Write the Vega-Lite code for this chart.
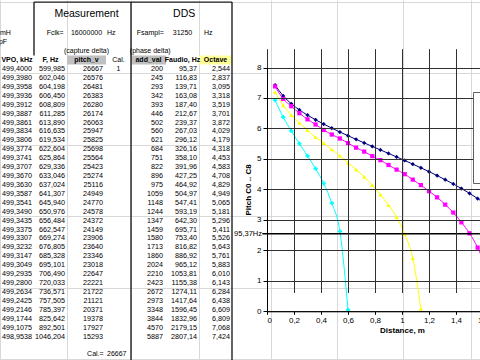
{
  "$schema": "https://vega.github.io/schema/vega-lite/v6.json",
  "width": 480,
  "height": 360,
  "padding": 0,
  "autosize": {"type": "none"},
  "background": "white",
  "config": {
    "view": {"stroke": null},
    "locale": {"number": {"decimal": ",", "thousands": ".", "grouping": [3], "currency": ["", ""]}},
    "text": {"font": "Liberation Sans", "color": "#000000"}
  },
  "datasets": {
    "table": [
      {"row":0,"vpo":499.4000,"f":599.985,"pitch":26667,"addval":200,"faudio":95.37,"octave":2.544},
      {"row":1,"vpo":499.3980,"f":602.046,"pitch":26576,"addval":245,"faudio":116.83,"octave":2.837},
      {"row":2,"vpo":499.3958,"f":604.198,"pitch":26481,"addval":293,"faudio":139.71,"octave":3.095},
      {"row":3,"vpo":499.3936,"f":606.450,"pitch":26383,"addval":342,"faudio":163.08,"octave":3.318},
      {"row":4,"vpo":499.3912,"f":608.809,"pitch":26280,"addval":393,"faudio":187.40,"octave":3.519},
      {"row":5,"vpo":499.3887,"f":611.285,"pitch":26174,"addval":446,"faudio":212.67,"octave":3.701},
      {"row":6,"vpo":499.3861,"f":613.890,"pitch":26063,"addval":502,"faudio":239.37,"octave":3.872},
      {"row":7,"vpo":499.3834,"f":616.635,"pitch":25947,"addval":560,"faudio":267.03,"octave":4.029},
      {"row":8,"vpo":499.3806,"f":619.534,"pitch":25825,"addval":621,"faudio":296.12,"octave":4.179},
      {"row":9,"vpo":499.3774,"f":622.604,"pitch":25698,"addval":684,"faudio":326.16,"octave":4.318},
      {"row":10,"vpo":499.3741,"f":625.864,"pitch":25564,"addval":751,"faudio":358.10,"octave":4.453},
      {"row":11,"vpo":499.3707,"f":629.336,"pitch":25423,"addval":822,"faudio":391.96,"octave":4.583},
      {"row":12,"vpo":499.3670,"f":633.046,"pitch":25274,"addval":896,"faudio":427.25,"octave":4.708},
      {"row":13,"vpo":499.3630,"f":637.024,"pitch":25116,"addval":975,"faudio":464.92,"octave":4.829},
      {"row":14,"vpo":499.3587,"f":641.307,"pitch":24949,"addval":1059,"faudio":504.97,"octave":4.949},
      {"row":15,"vpo":499.3541,"f":645.940,"pitch":24770,"addval":1148,"faudio":547.41,"octave":5.065},
      {"row":16,"vpo":499.3490,"f":650.976,"pitch":24578,"addval":1244,"faudio":593.19,"octave":5.181},
      {"row":17,"vpo":499.3435,"f":656.484,"pitch":24372,"addval":1347,"faudio":642.30,"octave":5.296},
      {"row":18,"vpo":499.3375,"f":662.547,"pitch":24149,"addval":1459,"faudio":695.71,"octave":5.411},
      {"row":19,"vpo":499.3307,"f":669.274,"pitch":23906,"addval":1580,"faudio":753.40,"octave":5.526},
      {"row":20,"vpo":499.3232,"f":676.805,"pitch":23640,"addval":1713,"faudio":816.82,"octave":5.643},
      {"row":21,"vpo":499.3147,"f":685.328,"pitch":23346,"addval":1860,"faudio":886.92,"octave":5.761},
      {"row":22,"vpo":499.3049,"f":695.101,"pitch":23018,"addval":2024,"faudio":965.12,"octave":5.883},
      {"row":23,"vpo":499.2935,"f":706.490,"pitch":22647,"addval":2210,"faudio":1053.81,"octave":6.010},
      {"row":24,"vpo":499.2800,"f":720.033,"pitch":22221,"addval":2423,"faudio":1155.38,"octave":6.143},
      {"row":25,"vpo":499.2634,"f":736.571,"pitch":21722,"addval":2672,"faudio":1274.11,"octave":6.284},
      {"row":26,"vpo":499.2425,"f":757.505,"pitch":21121,"addval":2973,"faudio":1417.64,"octave":6.438},
      {"row":27,"vpo":499.2146,"f":785.397,"pitch":20371,"addval":3348,"faudio":1596.45,"octave":6.609},
      {"row":28,"vpo":499.1744,"f":825.642,"pitch":19378,"addval":3844,"faudio":1832.96,"octave":6.809},
      {"row":29,"vpo":499.1075,"f":892.501,"pitch":17927,"addval":4570,"faudio":2179.15,"octave":7.068},
      {"row":30,"vpo":498.9538,"f":1046.204,"pitch":15293,"addval":5887,"faudio":2807.14,"octave":7.424}
    ],
    "headers": [
      {"col":0.5,"row":-1,"t":"VPO, kHz"},
      {"col":1.5,"row":-1,"t":"F, Hz"},
      {"col":2.5,"row":-1,"t":"pitch_v"},
      {"col":4.5,"row":-1,"t":"add_val"},
      {"col":5.5,"row":-1,"t":"Faudio, Hz"},
      {"col":6.5,"row":-1,"t":"Octave"}
    ],
    "plain": [
      {"col":3.5,"row":-1,"t":"Cal."},
      {"col":2.5,"row":-2,"t":"(capture delta)"},
      {"col":4.55,"row":-2,"t":"(phase delta)"},
      {"col":2.5,"row":-4,"t":"16000000"},
      {"col":4.55,"row":-4,"t":"Fsampl="},
      {"col":5.5,"row":-4,"t":"31250"},
      {"col":3.5,"row":0,"t":"1"}
    ],
    "lefttext": [
      {"col":0,"row":-4,"t":"mH"},
      {"col":-0.03,"row":-3,"t":"pF"},
      {"col":3.04,"row":-4,"t":"Hz"},
      {"col":6.15,"row":-4,"t":"Hz"},
      {"col":3.04,"row":32,"t":"26667"}
    ],
    "righttext": [
      {"col":1.9,"row":-4,"t":"Fclk="},
      {"col":2.94,"row":32,"t":"Cal.="}
    ],
    "titles": [
      {"col":2.5,"row":-6.15,"t":"Measurement"},
      {"col":5.55,"row":-6.15,"t":"DDS"}
    ],
    "fills": [
      {"c0":2,"c1":3,"r0":-1.5,"r1":-0.5,"kind":"grey"},
      {"c0":4,"c1":5,"r0":-1.5,"r1":-0.5,"kind":"grey"},
      {"c0":6,"c1":7,"r0":-1.5,"r1":-0.5,"kind":"yellow"}
    ],
    "borders": [
      {"c0":1,"c1":7,"r0":-7.5,"r1":-7.5},
      {"c0":1,"c1":1,"r0":-7.5,"r1":-1.5},
      {"c0":4,"c1":4,"r0":-7.5,"r1":33},
      {"c0":7,"c1":7,"r0":-7.5,"r1":33}
    ],
    "series": [
      {"s":"Measured","d":0.06,"p":7.424},{"s":"Measured","d":0.12,"p":7.068},{"s":"Measured","d":0.18,"p":6.809},
      {"s":"Measured","d":0.24,"p":6.609},{"s":"Measured","d":0.30,"p":6.438},{"s":"Measured","d":0.36,"p":6.284},
      {"s":"Measured","d":0.42,"p":6.143},{"s":"Measured","d":0.48,"p":6.010},{"s":"Measured","d":0.54,"p":5.883},
      {"s":"Measured","d":0.60,"p":5.761},{"s":"Measured","d":0.66,"p":5.643},{"s":"Measured","d":0.72,"p":5.526},
      {"s":"Measured","d":0.78,"p":5.411},{"s":"Measured","d":0.84,"p":5.296},{"s":"Measured","d":0.90,"p":5.181},
      {"s":"Measured","d":0.96,"p":5.065},{"s":"Measured","d":1.02,"p":4.949},{"s":"Measured","d":1.08,"p":4.829},
      {"s":"Measured","d":1.14,"p":4.708},{"s":"Measured","d":1.20,"p":4.583},{"s":"Measured","d":1.26,"p":4.453},
      {"s":"Measured","d":1.32,"p":4.318},{"s":"Measured","d":1.38,"p":4.179},{"s":"Measured","d":1.44,"p":4.029},
      {"s":"Measured","d":1.50,"p":3.872},{"s":"Measured","d":1.56,"p":3.701},{"s":"Measured","d":1.62,"p":3.519},
      {"s":"Measured","d":1.68,"p":3.318},{"s":"Measured","d":1.74,"p":3.095},{"s":"Measured","d":1.80,"p":2.837},
      {"s":"Measured","d":1.86,"p":2.544},
      {"s":"Cal 1","d":0.06,"p":7.38},{"s":"Cal 1","d":0.12,"p":6.97},{"s":"Cal 1","d":0.18,"p":6.73},
      {"s":"Cal 1","d":0.24,"p":6.50},{"s":"Cal 1","d":0.30,"p":6.30},{"s":"Cal 1","d":0.36,"p":6.13},
      {"s":"Cal 1","d":0.42,"p":5.95},{"s":"Cal 1","d":0.48,"p":5.80},{"s":"Cal 1","d":0.54,"p":5.67},
      {"s":"Cal 1","d":0.60,"p":5.52},{"s":"Cal 1","d":0.66,"p":5.37},{"s":"Cal 1","d":0.72,"p":5.24},
      {"s":"Cal 1","d":0.78,"p":5.09},{"s":"Cal 1","d":0.84,"p":4.96},{"s":"Cal 1","d":0.90,"p":4.80},
      {"s":"Cal 1","d":0.96,"p":4.65},{"s":"Cal 1","d":1.02,"p":4.50},{"s":"Cal 1","d":1.08,"p":4.32},
      {"s":"Cal 1","d":1.14,"p":4.14},{"s":"Cal 1","d":1.20,"p":3.94},{"s":"Cal 1","d":1.26,"p":3.74},
      {"s":"Cal 1","d":1.32,"p":3.50},{"s":"Cal 1","d":1.38,"p":3.24},{"s":"Cal 1","d":1.44,"p":2.92},
      {"s":"Cal 1","d":1.50,"p":2.56},{"s":"Cal 1","d":1.56,"p":2.09},{"s":"Cal 1","d":1.62,"p":1.40},
      {"s":"Cal 1","d":1.68,"p":0.05},
      {"s":"Cal 2","d":0.06,"p":7.19},{"s":"Cal 2","d":0.12,"p":6.76},{"s":"Cal 2","d":0.18,"p":6.44},
      {"s":"Cal 2","d":0.24,"p":6.18},{"s":"Cal 2","d":0.30,"p":5.94},{"s":"Cal 2","d":0.36,"p":5.71},
      {"s":"Cal 2","d":0.42,"p":5.52},{"s":"Cal 2","d":0.48,"p":5.31},{"s":"Cal 2","d":0.54,"p":5.10},
      {"s":"Cal 2","d":0.60,"p":4.87},{"s":"Cal 2","d":0.66,"p":4.65},{"s":"Cal 2","d":0.72,"p":4.41},
      {"s":"Cal 2","d":0.78,"p":4.14},{"s":"Cal 2","d":0.84,"p":3.83},{"s":"Cal 2","d":0.90,"p":3.48},
      {"s":"Cal 2","d":0.96,"p":3.09},{"s":"Cal 2","d":1.02,"p":2.54},{"s":"Cal 2","d":1.08,"p":1.74},
      {"s":"Cal 2","d":1.14,"p":0.08},
      {"s":"Cal 3","d":0.06,"p":6.93},{"s":"Cal 3","d":0.12,"p":6.37},{"s":"Cal 3","d":0.18,"p":5.92},
      {"s":"Cal 3","d":0.24,"p":5.50},{"s":"Cal 3","d":0.30,"p":5.10},{"s":"Cal 3","d":0.36,"p":4.68},
      {"s":"Cal 3","d":0.42,"p":4.20},{"s":"Cal 3","d":0.48,"p":3.55},{"s":"Cal 3","d":0.54,"p":2.62},
      {"s":"Cal 3","d":0.60,"p":0.05}
    ],
    "ref": [{"p":2.544,"label":"95,37Hz"}]
  },
  "layer": [
    {
      "layer": [
        {
          "data": {"name": "fills"},
          "mark": {"type": "rect"},
          "encoding": {
            "x": {"field": "c0", "type": "quantitative",
              "scale": {"domain": [0,1,2,3,4,5,6,7,8,9,10,11,12,13,14,15], "range": [0,34,67,106,131,166,199,232,271,303,337,370,403,437,471,505], "nice": false, "zero": false},
              "axis": {"orient": "top", "values": [0,1,2,3,4,5,6,7,8,9,10,11,12,13,14,15], "grid": true, "gridColor": "#d8d8d8", "gridWidth": 1, "labels": false, "ticks": false, "domain": false, "title": null}},
            "x2": {"field": "c1"},
            "y": {"field": "r0", "type": "quantitative",
              "scale": {"domain": [-7.7354, 32.623], "reverse": true, "nice": false, "zero": false},
              "axis": {"orient": "left", "values": [-7.5,-6.5,-5.5,-4.5,-3.5,-2.5,-1.5,-0.5,0.5,1.5,2.5,3.5,4.5,5.5,6.5,7.5,8.5,9.5,10.5,11.5,12.5,13.5,14.5,15.5,16.5,17.5,18.5,19.5,20.5,21.5,22.5,23.5,24.5,25.5,26.5,27.5,28.5,29.5,30.5,31.5,32.5], "grid": true, "gridColor": "#d8d8d8", "gridWidth": 1, "labels": false, "ticks": false, "domain": false, "title": null}},
            "y2": {"field": "r1"},
            "color": {"field": "kind", "type": "nominal", "scale": {"domain": ["grey","yellow"], "range": ["#c0c0c0","#ffff99"]}, "legend": null}
          }
        },
        {
          "data": {"name": "borders"},
          "mark": {"type": "rule", "color": "#202020", "strokeWidth": 1.4},
          "encoding": {
            "x": {"field": "c0", "type": "quantitative"},
            "x2": {"field": "c1"},
            "y": {"field": "r0", "type": "quantitative"},
            "y2": {"field": "r1"}
          }
        },
        {
          "mark": {"type": "rect", "fill": null, "stroke": "#000000", "strokeWidth": 2},
          "encoding": {
            "x": {"datum": 13, "type": "quantitative"},
            "x2": {"datum": 14},
            "y": {"datum": -3.5, "type": "quantitative"},
            "y2": {"datum": -2.5}
          }
        },
        {
          "data": {"name": "titles"},
          "mark": {"type": "text", "fontSize": 10.5, "align": "center", "baseline": "middle"},
          "encoding": {
            "x": {"field": "col", "type": "quantitative"},
            "y": {"field": "row", "type": "quantitative"},
            "text": {"field": "t"}
          }
        },
        {
          "data": {"name": "headers"},
          "mark": {"type": "text", "fontSize": 7, "fontWeight": "bold", "align": "center", "baseline": "middle"},
          "encoding": {
            "x": {"field": "col", "type": "quantitative"},
            "y": {"field": "row", "type": "quantitative"},
            "text": {"field": "t"}
          }
        },
        {
          "data": {"name": "plain"},
          "mark": {"type": "text", "fontSize": 7, "align": "center", "baseline": "middle"},
          "encoding": {
            "x": {"field": "col", "type": "quantitative"},
            "y": {"field": "row", "type": "quantitative"},
            "text": {"field": "t"}
          }
        },
        {
          "data": {"name": "lefttext"},
          "mark": {"type": "text", "fontSize": 7, "align": "left", "baseline": "middle"},
          "encoding": {
            "x": {"field": "col", "type": "quantitative"},
            "y": {"field": "row", "type": "quantitative"},
            "text": {"field": "t"}
          }
        },
        {
          "data": {"name": "righttext"},
          "mark": {"type": "text", "fontSize": 7, "align": "right", "baseline": "middle"},
          "encoding": {
            "x": {"field": "col", "type": "quantitative"},
            "y": {"field": "row", "type": "quantitative"},
            "text": {"field": "t"}
          }
        },
        {
          "data": {"name": "table"},
          "mark": {"type": "text", "fontSize": 7.2, "align": "right", "baseline": "middle", "dx": -2},
          "encoding": {"x": {"datum": 1, "type": "quantitative"}, "y": {"field": "row", "type": "quantitative"}, "text": {"field": "vpo", "type": "quantitative", "format": ".4f"}}
        },
        {
          "data": {"name": "table"},
          "mark": {"type": "text", "fontSize": 7.2, "align": "right", "baseline": "middle", "dx": -2},
          "encoding": {"x": {"datum": 2, "type": "quantitative"}, "y": {"field": "row", "type": "quantitative"}, "text": {"field": "f", "type": "quantitative", "format": ".3f"}}
        },
        {
          "data": {"name": "table"},
          "mark": {"type": "text", "fontSize": 7.2, "align": "right", "baseline": "middle", "dx": -3},
          "encoding": {"x": {"datum": 3, "type": "quantitative"}, "y": {"field": "row", "type": "quantitative"}, "text": {"field": "pitch", "type": "quantitative", "format": "d"}}
        },
        {
          "data": {"name": "table"},
          "mark": {"type": "text", "fontSize": 7.2, "align": "right", "baseline": "middle", "dx": -3},
          "encoding": {"x": {"datum": 5, "type": "quantitative"}, "y": {"field": "row", "type": "quantitative"}, "text": {"field": "addval", "type": "quantitative", "format": "d"}}
        },
        {
          "data": {"name": "table"},
          "mark": {"type": "text", "fontSize": 7.2, "align": "right", "baseline": "middle", "dx": -2},
          "encoding": {"x": {"datum": 6, "type": "quantitative"}, "y": {"field": "row", "type": "quantitative"}, "text": {"field": "faudio", "type": "quantitative", "format": ".2f"}}
        },
        {
          "data": {"name": "table"},
          "mark": {"type": "text", "fontSize": 7.2, "align": "right", "baseline": "middle", "dx": -2},
          "encoding": {"x": {"datum": 7, "type": "quantitative"}, "y": {"field": "row", "type": "quantitative"}, "text": {"field": "octave", "type": "quantitative", "format": ".3f"}}
        }
      ]
    },
    {
      "layer": [
        {
          "mark": {"type": "rect", "fill": "white", "stroke": "#404040", "strokeWidth": 1},
          "encoding": {
            "x": {"datum": -0.185, "type": "quantitative",
              "scale": {"domain": [0, 2], "range": [267, 537], "nice": false, "zero": false},
              "axis": {"orient": "bottom", "offset": -48.7, "values": [0,0.2,0.4,0.6,0.8,1,1.2,1.4,1.6], "format": ".1~f", "grid": true, "gridColor": "#303030", "gridWidth": 1, "domain": true, "domainColor": "#000000", "tickColor": "#000000", "tickSize": 3, "labelFont": "Liberation Sans", "labelFontSize": 8, "labelColor": "#000000", "labelPadding": 2, "labelOverlap": false, "labelBound": false, "title": "Distance, m", "titleFont": "Liberation Sans", "titleFontSize": 8, "titleFontWeight": "bold", "titleColor": "#000000", "titlePadding": 2, "zindex": 1}},
            "x2": {"datum": 2.6},
            "y": {"datum": -0.876, "type": "quantitative",
              "scale": {"domain": [0, 8], "range": [311.3, 67.5], "nice": false, "zero": false},
              "axis": {"orient": "left", "offset": -267, "values": [0,1,2,3,4,5,6,7,8], "grid": true, "gridColor": "#303030", "gridWidth": 1, "domain": true, "domainColor": "#000000", "tickColor": "#000000", "tickSize": 4, "labelFont": "Liberation Sans", "labelFontSize": 8, "labelColor": "#000000", "labelPadding": 2, "title": "Pitch  C0 .. C8", "titleFont": "Liberation Sans", "titleFontSize": 8, "titleFontWeight": "bold", "titleColor": "#000000", "titlePadding": 4, "zindex": 1}},
            "y2": {"datum": 8.31}
          }
        },
        {
          "data": {"name": "series"},
          "mark": {"type": "line", "interpolate": "monotone", "strokeWidth": 1},
          "encoding": {
            "x": {"field": "d", "type": "quantitative"},
            "y": {"field": "p", "type": "quantitative"},
            "color": {"field": "s", "type": "nominal", "sort": null,
              "scale": {"domain": ["Measured","Cal 1","Cal 2","Cal 3"], "range": ["#000080","#ff00ff","#ffff00","#00ffff"]},
              "legend": {"orient": "none", "legendX": 473, "legendY": 92, "fillColor": "white", "strokeColor": "#606060", "padding": 14, "rowPadding": 6, "title": null, "labelExpr": "''", "symbolSize": 20, "zindex": 2}},
            "detail": {"field": "s"}
          }
        },
        {
          "data": {"name": "series"},
          "mark": {"type": "point", "filled": true, "opacity": 1},
          "encoding": {
            "x": {"field": "d", "type": "quantitative"},
            "y": {"field": "p", "type": "quantitative"},
            "color": {"field": "s", "type": "nominal", "sort": null},
            "shape": {"field": "s", "type": "nominal", "sort": null,
              "scale": {"domain": ["Measured","Cal 1","Cal 2","Cal 3"], "range": ["diamond","square","triangle-up","cross"]}, "legend": null},
            "size": {"field": "s", "type": "nominal", "sort": null,
              "scale": {"domain": ["Measured","Cal 1","Cal 2","Cal 3"], "range": [18, 18, 20, 8]}, "legend": null}
          }
        },
        {
          "data": {"name": "ref"},
          "mark": {"type": "rule", "color": "#000000", "strokeWidth": 1.6},
          "encoding": {
            "x": {"datum": -0.035, "type": "quantitative"},
            "x2": {"datum": 2},
            "y": {"field": "p", "type": "quantitative"}
          }
        },
        {
          "data": {"name": "ref"},
          "mark": {"type": "text", "align": "right", "baseline": "middle", "dx": -5, "fontSize": 7.5},
          "encoding": {
            "x": {"datum": 0, "type": "quantitative"},
            "y": {"field": "p", "type": "quantitative"},
            "text": {"field": "label"}
          }
        },
        {
          "mark": {"type": "text", "align": "left", "baseline": "middle", "fontSize": 8},
          "encoding": {
            "x": {"datum": 1.51, "type": "quantitative"},
            "y": {"datum": 7.46, "type": "quantitative"},
            "text": {"value": "Cal"}
          }
        }
      ]
    }
  ],
  "resolve": {"scale": {"x": "independent", "y": "independent", "color": "independent", "shape": "independent", "size": "independent"}}
}
